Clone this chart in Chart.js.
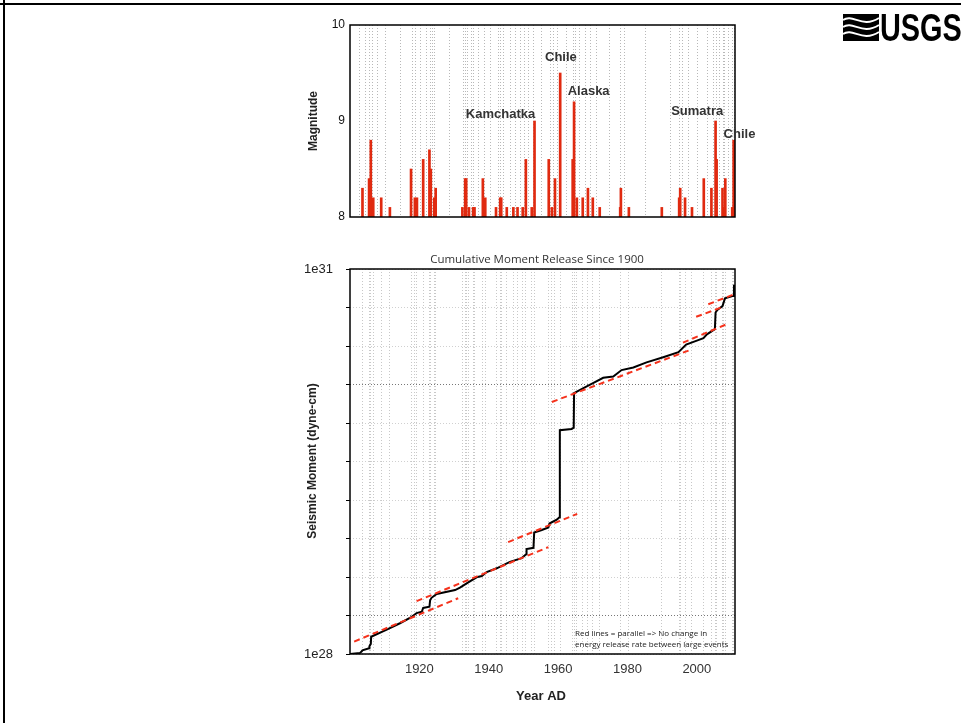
<!DOCTYPE html>
<html>
<head>
<meta charset="utf-8">
<script src="https://cdn.jsdelivr.net/npm/chart.js@4.4.1/dist/chart.umd.min.js"></script>
<style>
  html, body { margin: 0; padding: 0; background: #fff; }
  #wrap { position: relative; width: 961px; height: 723px; overflow: hidden; }
  canvas { position: absolute; left: 0; top: 0; }
</style>
</head>
<body>
<div id="wrap">
  <canvas id="magChart" width="961" height="723"></canvas>
  <canvas id="momentChart" width="961" height="723"></canvas>
</div>
<script>
// Sismos M >= 8 desde 1900 (año decimal, magnitud)
const quakeYears = [1903.6, 1905.5, 1906.0, 1906.7, 1909.0, 1911.5, 1917.6, 1918.7, 1919.3, 1921.1,
  1922.9, 1923.3, 1924.3, 1924.7, 1932.4, 1933.2, 1933.5, 1934.3, 1935.5, 1935.9,
  1938.3, 1939.0, 1942.1, 1943.3, 1943.6, 1945.2, 1947.1, 1948.3, 1949.8, 1950.7,
  1952.4, 1953.2, 1957.3, 1958.2, 1959.1, 1960.6, 1964.2, 1964.6, 1965.4, 1967.1,
  1968.6, 1970.0, 1972.0, 1977.9, 1978.1, 1980.4, 1989.9, 1994.9, 1995.2, 1996.6,
  1998.6, 2002.0, 2004.2, 2005.4, 2005.7, 2007.4, 2007.8, 2008.2, 2010.2, 2010.6];
const quakeMags = [8.3, 8.4, 8.8, 8.2, 8.2, 8.1, 8.5, 8.2, 8.2, 8.6,
  8.7, 8.5, 8.2, 8.3, 8.1, 8.4, 8.4, 8.1, 8.1, 8.1,
  8.4, 8.2, 8.1, 8.2, 8.2, 8.1, 8.1, 8.1, 8.1, 8.6,
  8.1, 9.0, 8.6, 8.1, 8.4, 9.5, 8.6, 9.2, 8.2, 8.2,
  8.3, 8.2, 8.1, 8.1, 8.3, 8.1, 8.1, 8.2, 8.3, 8.2,
  8.1, 8.4, 8.3, 9.0, 8.6, 8.3, 8.1, 8.4, 8.1, 8.8];

// Etiquetas de los grandes eventos (texto, año, magnitud donde va el texto)
const eventNames = ["Kamchatka", "Chile", "Alaska", "Sumatra", "Chile"];
const eventLabelYears = [1943.4, 1960.8, 1968.8, 2000.1, 2012.3];
const eventLabelMags = [9.07, 9.66, 9.31, 9.10, 8.86];

// Momento sísmico acumulado (dyne-cm)
const momentYears = [1900.0, 1902.9, 1903.4, 1903.6, 1905.5, 1905.6, 1906.0, 1906.1, 1910.6, 1914.4,
  1917.8, 1919.2, 1920.7, 1921.1, 1922.9, 1923.1, 1923.5, 1925.0, 1930.3, 1931.7,
  1934.1, 1936.5, 1938.0, 1939.4, 1942.3, 1946.1, 1949.5, 1950.8, 1950.9, 1952.9,
  1953.1, 1955.3, 1957.2, 1957.5, 1959.6, 1960.4, 1960.5, 1963.9, 1964.5, 1964.6,
  1967.3, 1970.2, 1973.0, 1975.9, 1978.3, 1981.7, 1985.5, 1990.3, 1994.7, 1996.9,
  2000.0, 2001.9, 2002.9, 2005.2, 2005.4, 2005.9, 2007.4, 2008.1, 2010.5, 2010.7, 2011.0];
const momentValues = [1.00e28, 1.02e28, 1.05e28, 1.07e28, 1.11e28, 1.15e28, 1.20e28, 1.365e28, 1.55e28, 1.74e28,
  1.95e28, 2.09e28, 2.14e28, 2.29e28, 2.34e28, 2.63e28, 2.75e28, 2.95e28, 3.16e28, 3.31e28,
  3.63e28, 3.98e28, 4.07e28, 4.37e28, 4.68e28, 5.25e28, 5.62e28, 6.03e28, 6.61e28, 6.76e28,
  8.91e28, 9.33e28, 9.77e28, 1.047e29, 1.122e29, 1.175e29, 5.62e29, 5.75e29, 5.89e29, 1.096e30,
  1.20e30, 1.32e30, 1.445e30, 1.48e30, 1.66e30, 1.74e30, 1.905e30, 2.09e30, 2.29e30, 2.63e30,
  2.82e30, 2.95e30, 3.16e30, 3.47e30, 4.68e30, 4.90e30, 5.25e30, 6.03e30, 6.31e30, 7.59e30, 7.59e30];

// Rectas rojas paralelas (inicio y fin de cada tramo)
const fitStartYears = [1901.2, 1919.2, 1945.6, 1958.2, 1996.0, 1999.8, 2003.3];
const fitStartVals = [1.25e28, 2.59e28, 7.50e28, 9.35e29, 2.72e30, 4.33e30, 5.43e30];
const fitEndYears = [1931.2, 1957.2, 1965.5, 1998.0, 2008.6, 2007.3, 2011.0];
const fitEndVals = [2.73e28, 6.85e28, 1.247e29, 2.38e30, 3.79e30, 5.15e30, 6.53e30];

// Ejes
const labelYears = [1920, 1940, 1960, 1980, 2000];
const momentTicks = [1e28, 2e28, 4e28, 8e28, 1.6e29, 3.2e29, 6.4e29, 1.28e30, 2.56e30, 5.12e30, 1.024e31];

const FONT = "'Liberation Sans', Arial, sans-serif";
Chart.defaults.font.family = FONT;
Chart.defaults.color = "#222";

// Marco negro alrededor del área del gráfico
const frame = {
  id: "frame",
  afterDatasetsDraw(chart) {
    const { ctx, chartArea: a } = chart;
    ctx.save();
    ctx.strokeStyle = "#000";
    ctx.lineWidth = 1.5;
    ctx.strokeRect(a.left, a.top, a.right - a.left, a.bottom - a.top);
    ctx.restore();
  }
};

// Textos de la parte superior + logo + borde de la lámina
const magTexts = {
  id: "magTexts",
  afterDraw(chart) {
    const { ctx, scales } = chart;
    ctx.save();
    // borde de la lámina
    ctx.fillStyle = "#000";
    ctx.fillRect(3, 0, 2, 723);
    ctx.fillRect(0, 3, 961, 2);

    ctx.fillStyle = "#333";
    ctx.font = "bold 13px " + FONT;
    ctx.textAlign = "center";
    ctx.textBaseline = "middle";
    eventNames.forEach((name, i) => {
      ctx.fillText(name, scales.x.getPixelForValue(eventLabelYears[i]), scales.y.getPixelForValue(eventLabelMags[i]));
    });

    ctx.fillStyle = "#222";
    ctx.font = "bold 12px " + FONT;
    ctx.translate(314, 121);
    ctx.rotate(-Math.PI / 2);
    ctx.fillText("Magnitude", 0, 0);
    ctx.restore();

    // logo USGS
    ctx.save();
    ctx.fillStyle = "#000";
    ctx.fillRect(843, 14, 36, 27);
    ctx.strokeStyle = "#fff";
    ctx.lineWidth = 2;
    for (let k = 0; k < 3; k++) {
      const y0 = 20 + k * 7;
      ctx.beginPath();
      ctx.moveTo(843, y0);
      ctx.bezierCurveTo(853, y0 - 7, 862, y0 + 9, 879, y0 - 2);
      ctx.stroke();
    }
    ctx.translate(880, 41);
    ctx.scale(0.76, 1);
    ctx.font = "bold 38px " + FONT;
    ctx.textAlign = "left";
    ctx.textBaseline = "alphabetic";
    ctx.fillText("USGS", 0, 0);
    ctx.restore();
  }
};

const momentTexts = {
  id: "momentTexts",
  afterDraw(chart) {
    const { ctx, chartArea: a } = chart;
    ctx.save();
    ctx.fillStyle = "#333";
    ctx.textAlign = "center";
    ctx.textBaseline = "middle";
    ctx.font = "11.5px 'Open Sans', sans-serif";
    ctx.fillText("Cumulative Moment Release Since 1900", 537, 260);

    ctx.fillStyle = "#222";
    ctx.font = "bold 13px " + FONT;
    ctx.fillText("Year AD", 541, 696);

    ctx.font = "8px 'Open Sans', sans-serif";
    ctx.textAlign = "left";
    ctx.textBaseline = "alphabetic";
    ctx.fillText("Red lines = parallel => No change in", 575, 636);
    ctx.fillText("energy release rate between large events", 575, 647);

    ctx.font = "bold 12px " + FONT;
    ctx.textAlign = "center";
    ctx.textBaseline = "middle";
    ctx.translate(313, 461);
    ctx.rotate(-Math.PI / 2);
    ctx.fillText("Seismic Moment (dyne-cm)", 0, 0);
    ctx.restore();
  }
};

// Gráfico superior: magnitudes
new Chart(document.getElementById("magChart"), {
  type: "bar",
  data: {
    datasets: [{
      data: quakeYears.map((yr, i) => ({ x: yr, y: [8, quakeMags[i]] })),
      backgroundColor: "#e02a10",
      barThickness: 2,
      borderWidth: 0
    }]
  },
  options: {
    responsive: false,
    animation: false,
    layout: { padding: { left: 300, right: 226, top: 25, bottom: 506 } },
    plugins: { legend: { display: false }, tooltip: { enabled: false } },
    scales: {
      x: {
        type: "linear", min: 1900, max: 2011, offset: false,
        afterBuildTicks: (s) => { s.ticks = quakeYears.map(v => ({ value: v })); },
        afterFit: (s) => { s.height = 0; },
        ticks: { display: false },
        grid: { color: "#b8b8b8", lineWidth: 1, drawTicks: false },
        border: { display: false, dash: [1, 2] }
      },
      y: {
        min: 8, max: 10,
        afterBuildTicks: (s) => { s.ticks = [8, 9, 10].map(v => ({ value: v })); },
        afterFit: (s) => { s.width = 50; },
        ticks: { padding: 5, font: { size: 12 }, color: "#111" },
        grid: { display: false, drawTicks: false },
        border: { display: false }
      }
    }
  },
  plugins: [frame, magTexts]
});

// Gráfico inferior: momento acumulado
const fitSets = fitStartYears.map((yr, i) => ({
  data: [{ x: yr, y: fitStartVals[i] }, { x: fitEndYears[i], y: fitEndVals[i] }],
  borderColor: "#f5321c",
  borderWidth: 2,
  borderDash: [6, 4],
  pointRadius: 0,
  order: 0
}));

new Chart(document.getElementById("momentChart"), {
  type: "line",
  data: {
    datasets: [{
      data: momentYears.map((yr, i) => ({ x: yr, y: momentValues[i] })),
      borderColor: "#000",
      borderWidth: 2,
      pointRadius: 0,
      tension: 0,
      order: 1
    }].concat(fitSets)
  },
  options: {
    responsive: false,
    animation: false,
    layout: { padding: { left: 300, right: 226, top: 269, bottom: 39 } },
    plugins: { legend: { display: false }, tooltip: { enabled: false } },
    scales: {
      x: {
        type: "linear", min: 1900, max: 2011,
        afterBuildTicks: (s) => {
          s.ticks = quakeYears.concat(labelYears).sort((a, b) => a - b).map(v => ({ value: v }));
        },
        afterFit: (s) => { s.height = 30; },
        ticks: {
          autoSkip: false, maxRotation: 0, padding: 8,
          font: { size: 13 }, color: "#333",
          callback: (v) => labelYears.includes(v) ? String(v) : ""
        },
        grid: {
          color: (c) => labelYears.includes(c.tick && c.tick.value) ? "rgba(0,0,0,0)" : "#c8c8c8",
          drawTicks: false
        },
        border: { display: false, dash: [1, 2] }
      },
      y: {
        type: "logarithmic", min: 1e28, max: 1.024e31,
        afterBuildTicks: (s) => { s.ticks = momentTicks.map(v => ({ value: v })); },
        afterFit: (s) => { s.width = 50; },
        ticks: {
          padding: 13, font: { size: 13 }, color: "#222",
          callback: (v) => v === 1e28 ? "1e28" : (v === 1.024e31 ? "1e31" : "")
        },
        grid: {
          color: (c) => (c.index === 1 || c.index === 7) ? "#777" : "#d0d0d0",
          tickLength: 4, tickColor: "#000"
        },
        border: { display: false, dash: [1, 2] }
      }
    }
  },
  plugins: [frame, momentTexts]
});
</script>
</body>
</html>
